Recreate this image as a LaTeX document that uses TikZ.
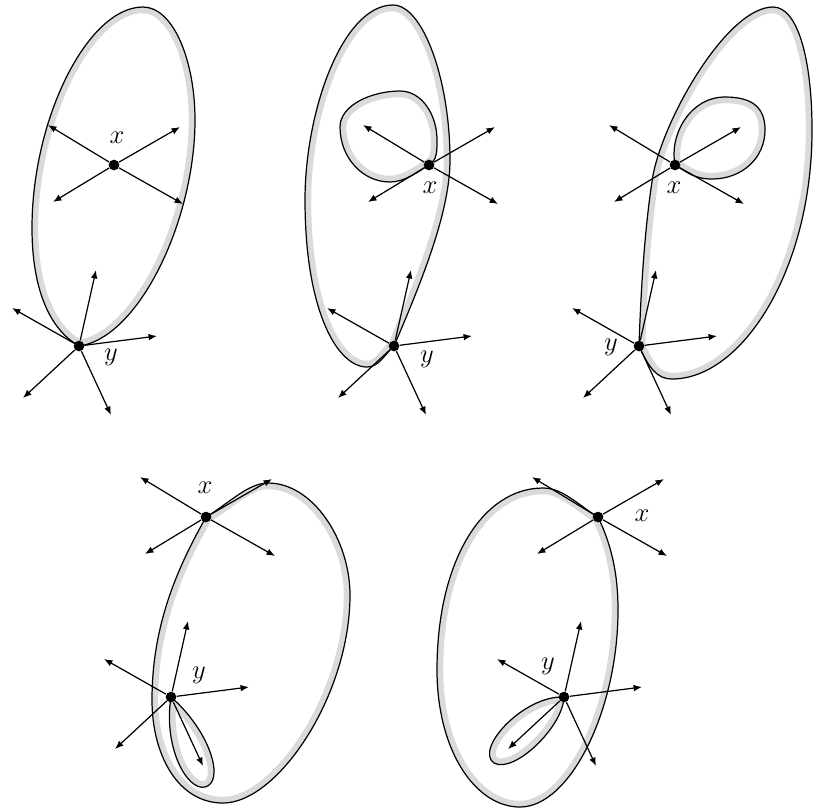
\documentclass[tikz,border=0pt]{standalone}
\usetikzlibrary{arrows.meta}
\definecolor{bandgray}{HTML}{D9DADC}
\pgfdeclarelayer{bg}
\pgfsetlayers{bg,main}
\tikzset{
  vtx/.style={circle, fill=black, inner sep=0pt, minimum size=4.8pt},
  dirarrow/.style={-{Latex[length=3.8pt,width=3pt]}, line width=0.55pt},
  rim/.style={draw=black, line width=0.55pt},
  rimband/.style={draw=bandgray, line width=5.6pt},
  lbl/.style={inner sep=0pt, font=\large}
}
% closed curve with a grey band on its inner side
\newcommand{\bandloop}[1]{%
  \begin{scope}
    \clip #1;
    \draw[rimband] #1;
  \end{scope}
  \draw[rim] #1;}

\begin{document}
\begin{tikzpicture}[x=0.45pt, y=-0.45pt]
\useasboundingbox (0,0) rectangle (817,810);

% the points x and y of each panel
\foreach \n/\a/\b in {1/114/165, 2/429/165, 3/675/165, 4/206/517, 5/598/517}
  \node[vtx] (x\n) at (\a,\b) {};
\foreach \n/\a/\b in {1/79/346, 2/394/346, 3/639/346, 4/171/697, 5/564/697}
  \node[vtx] (y\n) at (\a,\b) {};

\node[lbl] (lx1) at (117,138) {$x$};
\node[lbl] (ly1) at (111,357) {$y$};
\node[lbl] (lx2) at (430,188) {$x$};
\node[lbl] (ly2) at (427,359) {$y$};
\node[lbl] (lx3) at (674,188) {$x$};
\node[lbl] (ly3) at (611,347) {$y$};
\node[lbl] (lx4) at (205,488) {$x$};
\node[lbl] (ly4) at (199,675) {$y$};
\node[lbl] (lx5) at (642,516) {$x$};
\node[lbl] (ly5) at (548,666) {$y$};

\begin{pgfonlayer}{bg}
% panel 1
\bandloop{(y1.center) .. controls +(60,-8) and +(0,100) .. (195,120)
  .. controls +(0,-60) and +(30,0) .. (143,7)
  .. controls +(-55,0) and +(0,-110) .. (32,228)
  .. controls +(0,60) and +(-30,-17) .. (y1.center) -- cycle}

% panel 2
\bandloop{(y2.center) .. controls +(30,-70) and +(0,50) .. (450,160)
  .. controls +(0,-80) and +(30,0) .. (393,5)
  .. controls +(-50,0) and +(0,-90) .. (305,200)
  .. controls +(0,110) and +(-30,0) .. (367,367)
  .. controls +(12,0) and +(-10,9) .. (y2.center) -- cycle}
\bandloop{(x2.center) .. controls +(8,-5) and +(0,12) .. (437,140)
  .. controls +(0,-25) and +(22,0) .. (400,91)
  .. controls +(-28,0) and +(0,-22) .. (340,127)
  .. controls +(0,30) and +(-28,0) .. (390,182)
  .. controls +(15,0) and +(-12,7) .. (x2.center) -- cycle}

% panel 3
\bandloop{(y3.center) .. controls +(10,22) and +(-15,0) .. (672,379)
  .. controls +(70,0) and +(0,140) .. (812,130)
  .. controls +(0,-70) and +(25,0) .. (773,7)
  .. controls +(-45,0) and +(12,-60) .. (653,175)
  .. controls +(-8,50) and +(2,-60) .. (y3.center) -- cycle}
\bandloop{(x3.center) .. controls +(-6,-30) and +(-35,0) .. (725,97)
  .. controls +(28,0) and +(0,-22) .. (765,130)
  .. controls +(0,28) and +(30,0) .. (712,179)
  .. controls +(-18,0) and +(12,7) .. (x3.center) -- cycle}

% panel 4
\bandloop{(x4.center) .. controls +(22,-13) and +(-20,0) .. (268,483)
  .. controls +(45,0) and +(0,-55) .. (350,595)
  .. controls +(0,100) and +(55,0) .. (223,803)
  .. controls +(-45,0) and +(0,55) .. (152,700)
  .. controls +(0,-80) and +(-25,45) .. (x4.center) -- cycle}
\bandloop{(y4.center) .. controls +(-8,50) and +(-18,4) .. (205,787)
  .. controls +(20,-5) and +(40,35) .. (y4.center) -- cycle}

% panel 5
\bandloop{(x5.center) .. controls +(12,25) and +(0,-40) .. (618,610)
  .. controls +(0,100) and +(50,0) .. (520,807)
  .. controls +(-45,0) and +(0,80) .. (437,670)
  .. controls +(0,-110) and +(-60,0) .. (543,488)
  .. controls +(20,0) and +(-20,-12) .. (x5.center) -- cycle}
\bandloop{(y5.center) .. controls +(-40,-2) and +(-20,-14) .. (494,763)
  .. controls +(20,11) and +(-1,30) .. (y5.center) -- cycle}

% tangent directions at x and y
\foreach \n in {1,...,5} {
  \foreach \dx/\dy [count=\k] in {-66/-40, 66/-38, -61/37, 69/39} {
    \path (x\n.center) ++(\dx,\dy) coordinate (xt\n\k);
    \draw[dirarrow] (x\n) -- (xt\n\k);
  }
  \foreach \dx/\dy [count=\k] in {-67/-38, 17/-76, 78/-10, -56/52, 32/69} {
    \path (y\n.center) ++(\dx,\dy) coordinate (yt\n\k);
    \draw[dirarrow] (y\n) -- (yt\n\k);
  }
}
\end{pgfonlayer}
\end{tikzpicture}
\end{document}
